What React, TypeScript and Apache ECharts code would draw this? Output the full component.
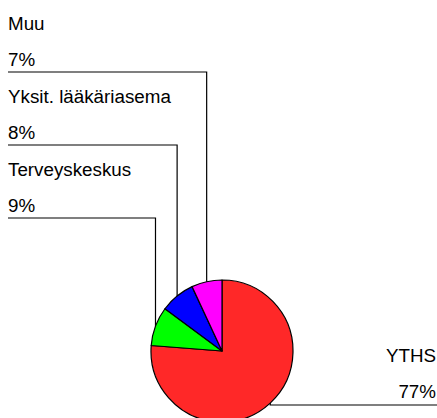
import React, { useEffect, useRef } from "react";
import * as echarts from "echarts";

const categories = ["YTHS", "Terveyskeskus", "Yksit. lääkäriasema", "Muu"];
const values = [77, 9, 8, 7];
const sliceColors = ["#ff2828", "#00ff00", "#0000ff", "#ff00ff"];

const FONT = "Arial, 'Liberation Sans', sans-serif";

export default function App() {
  const ref = useRef<HTMLDivElement>(null);
  useEffect(() => {
    document.body.style.margin = "0";
    if (!ref.current) return;
    const chart = echarts.init(ref.current, undefined, { renderer: "svg" });
    const cx = 222;
    const cy = 351;
    const r = 71;
    const total = values.reduce((a, b) => a + b, 0);
    const edgePoint = (i: number) => {
      let before = 0;
      for (let k = 0; k < i; k++) before += values[k];
      const mid = ((before + values[i] / 2) / total) * 360; // clockwise from top
      const rad = (mid * Math.PI) / 180;
      return [cx + r * Math.sin(rad), cy - r * Math.cos(rad)];
    };
    chart.setOption({
      animation: false,
      backgroundColor: "#ffffff",
      series: [
        {
          type: "pie",
          silent: true,
          center: [cx, cy],
          radius: r,
          startAngle: 90,
          clockwise: true,
          avoidLabelOverlap: false,
          data: categories.map((name, i) => ({
            name,
            value: values[i],
            itemStyle: { color: sliceColors[i] },
          })),
          itemStyle: { borderColor: "#000000", borderWidth: 1.2 },
          label: {
            show: true,
            position: "outside",
            fontFamily: FONT,
            color: "#000000",
            formatter: (p: any) => `{n|${p.name}}\n{p|${p.value}%}`,
            rich: {
              n: { fontFamily: FONT, fontSize: 18.8, lineHeight: 36, color: "#000" },
              p: { fontFamily: FONT, fontSize: 18.8, lineHeight: 36, color: "#000" },
            },
          },
          labelLine: {
            show: true,
            length: 10,
            length2: 10,
            lineStyle: { color: "#000000", width: 1.2 },
          },
          labelLayout: (params: any) => {
            const i = params.dataIndex;
            const p0 =
              params.labelLinePoints && params.labelLinePoints[0]
                ? params.labelLinePoints[0]
                : edgePoint(i);
            if (i === 0) {
              const lineY = 405;
              return {
                x: 436,
                y: lineY - 32,
                align: "right",
                verticalAlign: "middle",
                labelLinePoints: [p0, [p0[0], lineY], [437, lineY]],
              };
            }
            const lineY = 72 + 73 * (3 - i);
            return {
              x: 8,
              y: lineY - 31,
              align: "left",
              verticalAlign: "middle",
              labelLinePoints: [p0, [p0[0], lineY], [8, lineY]],
            };
          },
        },
      ],
    });
    return () => chart.dispose();
  }, []);
  return <div ref={ref} style={{ width: 437, height: 418 }} />;
}
